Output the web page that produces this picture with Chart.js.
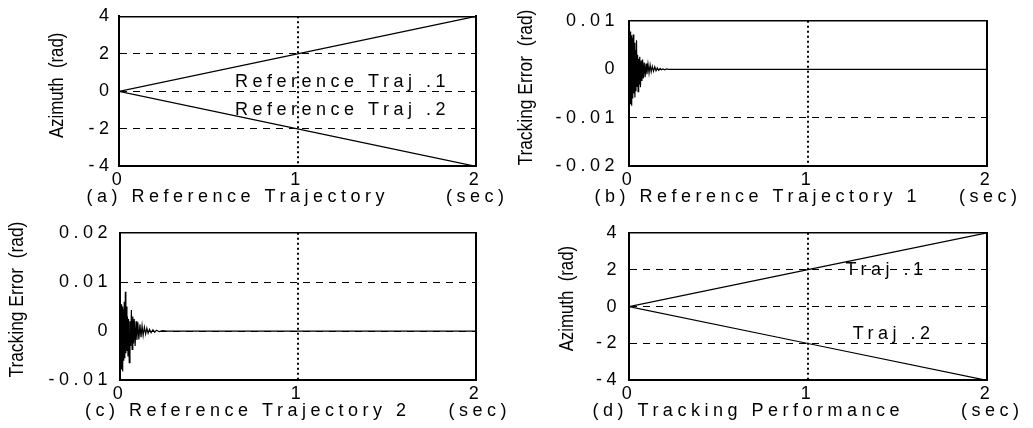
<!DOCTYPE html>
<html>
<head>
<meta charset="utf-8">
<script src="https://cdn.jsdelivr.net/npm/chart.js@4.4.1/dist/chart.umd.min.js"></script>
<style>
  html, body { margin: 0; padding: 0; background: #fff; }
  #page { position: relative; width: 1033px; height: 428px; overflow: hidden; }
  canvas { position: absolute; }
</style>
</head>
<body>
<div id="page">
  <canvas id="pa" width="595" height="214" style="left:0;top:0"></canvas>
  <canvas id="pb" width="590" height="214" style="left:513px;top:0"></canvas>
  <canvas id="pc" width="596" height="214" style="left:0;top:214px"></canvas>
  <canvas id="pd" width="590" height="214" style="left:513px;top:214px"></canvas>
</div>
<script>
// time axis (sec)
const timeTicks = [0, 1, 2];

// (a) reference trajectories
const refTime = [0, 1, 2];
const refTraj1 = [0, 2, 4];
const refTraj2 = [0, -2, -4];

// (d) tracking performance
const trackTime = [0, 1, 2];
const trackTraj1 = [0, 2, 4];
const trackTraj2 = [0, -2, -4];

// (b) tracking error for reference trajectory 1
const err1Time = [0, 0.003, 0.006, 0.009, 0.012, 0.015, 0.018, 0.021, 0.024, 0.027,
  0.030, 0.033, 0.036, 0.039, 0.042, 0.045, 0.048, 0.051, 0.054, 0.057,
  0.060, 0.064, 0.068, 0.072, 0.076, 0.080, 0.085, 0.090, 0.095, 0.100,
  0.106, 0.112, 0.118, 0.124, 0.130, 0.137, 0.144, 0.151, 0.158, 0.166,
  0.174, 0.182, 0.190, 0.200, 0.210, 0.220, 2.0];
const err1 = [0.0020, -0.0060, 0.0078, -0.0072, 0.0070, -0.0075, 0.0065, -0.0060, 0.0072, -0.0050,
  0.0055, -0.0058, 0.0040, -0.0045, 0.0060, -0.0035, 0.0030, -0.0046, 0.0022, -0.0030,
  0.0026, -0.0037, 0.0018, -0.0024, 0.0020, -0.0019, 0.0014, -0.0016, 0.0012, -0.0010,
  0.0011, -0.0008, 0.0009, -0.0005, 0.0006, -0.0004, 0.0005, -0.0003, 0.0003, -0.0002,
  0.0002, -0.0001, 0.0001, -0.0001, 0.0001, 0, 0];

// (c) tracking error for reference trajectory 2
const err2Time = [0, 0.003, 0.006, 0.009, 0.012, 0.015, 0.018, 0.021, 0.024, 0.027,
  0.030, 0.033, 0.036, 0.039, 0.042, 0.045, 0.048, 0.052, 0.056, 0.060,
  0.064, 0.068, 0.072, 0.076, 0.080, 0.085, 0.090, 0.095, 0.100, 0.106,
  0.112, 0.118, 0.124, 0.130, 0.137, 0.144, 0.151, 0.158, 0.166, 0.175,
  0.185, 0.195, 0.205, 0.220, 0.240, 0.260, 2.0];
const err2 = [0.0050, -0.0070, 0.0055, -0.0078, 0.0050, -0.0082, 0.0045, -0.0060, 0.0060, -0.0055,
  0.0080, -0.0045, 0.0050, -0.0040, 0.0030, -0.0050, 0.0025, -0.0064, 0.0020, -0.0030,
  0.0043, -0.0037, 0.0030, -0.0025, 0.0025, -0.0030, 0.0020, -0.0018, 0.0018, -0.0017,
  0.0014, -0.0012, 0.0011, -0.0009, 0.0008, -0.0006, 0.0006, -0.0004, 0.0004, -0.0003,
  0.0003, -0.0002, 0.0002, -0.0001, 0.0001, 0, 0];

// y tick values
const azimuthTicks = [-4, -2, 0, 2, 4];
const err1Ticks = [-0.02, -0.01, 0, 0.01];
const err2Ticks = [-0.01, 0, 0.01, 0.02];

const sans = '"Liberation Sans", Arial, sans-serif';
const spacing = '4.5px';

Chart.defaults.font.family = sans;
Chart.defaults.font.size = 18;
Chart.defaults.color = '#000';

// the scanned figure uses widely spaced lettering, except the narrow y titles
const spacedText = {
  id: 'spacedText',
  beforeDraw(chart, args, opts) {
    chart.ctx.letterSpacing = spacing;
    const y = chart.scales.y;
    if (!y._plainTitle) {
      const draw = y.drawTitle;
      y.drawTitle = function () {
        const ctx = this.ctx;
        const cy = (this.top + this.bottom) / 2;
        ctx.save();
        ctx.letterSpacing = '0px';
        ctx.translate(0, cy + (opts.shift || 0));
        ctx.scale(1, opts.squeeze || 1);
        ctx.translate(0, -cy);
        draw.call(this);
        ctx.restore();
      };
      y._plainTitle = true;
    }
  }
};

// text labels placed inside the plot at data coordinates
const inPlotText = {
  id: 'inPlotText',
  afterDatasetsDraw(chart, args, opts) {
    const { ctx, scales: { x, y } } = chart;
    ctx.save();
    ctx.font = '18px ' + sans;
    ctx.fillStyle = '#000';
    ctx.textAlign = 'left';
    ctx.textBaseline = 'middle';
    (opts.items || []).forEach(n => {
      ctx.fillText(n.text, x.getPixelForValue(n.x), y.getPixelForValue(n.y));
    });
    ctx.restore();
  }
};

Chart.register(spacedText, inPlotText);

function inside(ticks) {
  return c => (c.tick && c.tick.value > ticks[0] && c.tick.value < ticks[ticks.length - 1]) ? '#000' : 'rgba(0,0,0,0)';
}

function panel(id, p) {
  new Chart(document.getElementById(id), {
    type: 'line',
    data: {
      datasets: p.series.map(s => ({
        data: s.x.map((x, i) => ({ x: x, y: s.y[i] })),
        borderColor: '#000',
        borderWidth: 1.2,
        pointRadius: 0,
        tension: 0
      }))
    },
    options: {
      responsive: false,
      animation: false,
      events: [],
      layout: { padding: 0 },
      plugins: {
        legend: { display: false },
        tooltip: { enabled: false },
        title: {
          display: true,
          position: 'bottom',
          text: p.caption,
          color: '#000',
          font: { size: 18, weight: 'normal' },
          padding: { top: 0, bottom: 6 }
        },
        spacedText: { squeeze: p.squeeze, shift: p.shift },
        inPlotText: { items: p.notes || [] }
      },
      scales: {
        x: {
          type: 'linear',
          min: timeTicks[0],
          max: timeTicks[timeTicks.length - 1],
          afterBuildTicks: s => { s.ticks = timeTicks.map(v => ({ value: v })); },
          afterFit: s => { s.height = 20; },
          ticks: { color: '#000', padding: 3, maxRotation: 0, autoSkip: false, callback: v => String(v) },
          grid: { color: inside(timeTicks), lineWidth: 2, drawTicks: false },
          border: { color: '#000', width: 2, dash: [2, 3] }
        },
        y: {
          type: 'linear',
          min: p.yTicks[0],
          max: p.yTicks[p.yTicks.length - 1],
          afterBuildTicks: s => { s.ticks = p.yTicks.map(v => ({ value: v })); },
          afterFit: s => { s.width = p.left; },
          title: {
            display: true,
            text: p.yTitle,
            color: '#000',
            font: { family: sans, size: 20 },
            padding: { top: p.titleX - 12, bottom: 0 }
          },
          ticks: { color: '#000', padding: p.tickPad, autoSkip: false, callback: p.fmt },
          grid: { color: inside(p.yTicks), lineWidth: 1, drawTicks: false },
          border: { color: '#000', width: 2, dash: [7, 6] }
        },
        x2: {
          type: 'linear',
          position: 'top',
          display: true,
          ticks: { display: false },
          grid: { display: false },
          border: { color: '#000', width: 1.5 },
          afterFit: s => { s.height = p.top; }
        },
        y2: {
          type: 'linear',
          position: 'right',
          display: true,
          ticks: { display: false },
          grid: { display: false },
          border: { color: '#000', width: 2 },
          afterFit: s => { s.width = p.right; }
        }
      }
    }
  });
}

const plain = v => String(v);
const fixed2 = v => (Math.abs(v) < 1e-9 ? '0' : v.toFixed(2));

panel('pa', {
  caption: '(a) Reference Trajectory      (sec)',
  yTitle: 'Azimuth  (rad)',
  yTicks: azimuthTicks, fmt: plain,
  left: 119, right: 119, top: 12, titleX: 57, tickPad: 5.5,
  squeeze: 0.84, shift: -6,
  series: [{ x: refTime, y: refTraj1 }, { x: refTime, y: refTraj2 }],
  notes: [
    { text: 'Reference Traj .1', x: 0.65, y: 0.52 },
    { text: 'Reference Traj .2', x: 0.65, y: -1.0 }
  ]
});

panel('pb', {
  caption: '(b) Reference Trajectory 1    (sec)',
  yTitle: 'Tracking Error  (rad)',
  yTicks: err1Ticks, fmt: fixed2,
  left: 116, right: 116, top: 12, titleX: 13, tickPad: 10,
  squeeze: 0.87, shift: -6,
  series: [{ x: err1Time, y: err1 }]
});

panel('pc', {
  caption: '(c) Reference Trajectory 2    (sec)',
  yTitle: 'Tracking Error  (rad)',
  yTicks: err2Ticks, fmt: fixed2,
  left: 120, right: 120, top: 14, titleX: 17, tickPad: 8,
  squeeze: 0.87, shift: -7,
  series: [{ x: err2Time, y: err2 }]
});

panel('pd', {
  caption: '(d) Tracking Performance      (sec)',
  yTitle: 'Azimuth  (rad)',
  yTicks: azimuthTicks, fmt: plain,
  left: 116, right: 116, top: 14, titleX: 54, tickPad: 8,
  squeeze: 0.84, shift: -8,
  series: [{ x: trackTime, y: trackTraj1 }, { x: trackTime, y: trackTraj2 }],
  notes: [
    { text: 'Traj .1', x: 1.21, y: 2.0 },
    { text: 'Traj .2', x: 1.25, y: -1.47 }
  ]
});
</script>
</body>
</html>
